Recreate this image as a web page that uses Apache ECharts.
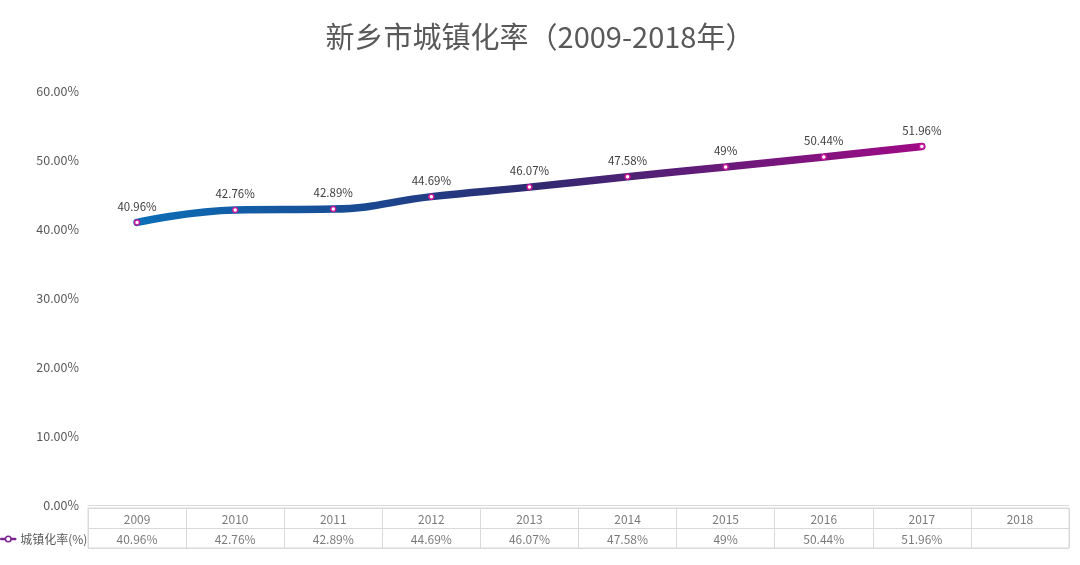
<!DOCTYPE html>
<html>
<head>
<meta charset="utf-8">
<script src="https://cdn.jsdelivr.net/npm/echarts@6/dist/echarts.min.js"></script>
<style>html,body{margin:0;padding:0;background:#fff}#c{width:1080px;height:565px}</style>
</head>
<body>
<div id="c"></div>
<script>
const titleText = '新乡市城镇化率（2009-2018年）';
const seriesName = '城镇化率(%)';
const years = ['2009','2010','2011','2012','2013','2014','2015','2016','2017','2018'];
const rates = [40.96, 42.76, 42.89, 44.69, 46.07, 47.58, 49, 50.44, 51.96, null];
const yTicks = [0, 10, 20, 30, 40, 50, 60];

const font = '"Noto Sans CJK SC", "Noto Sans", sans-serif';
const gray = '#595959';

const chart = echarts.init(document.getElementById('c'));
chart.setOption({
  animation: false,
  textStyle: { fontFamily: font },
  title: {
    text: titleText, left: 'center', top: 17,
    textStyle: { fontSize: 29, fontWeight: 'normal', color: gray, fontFamily: font }
  },
  legend: {
    data: [seriesName], left: 0, top: 533, padding: 0, itemWidth: 14, itemHeight: 7, itemGap: 2,
    textStyle: { fontSize: 12, color: gray },
    lineStyle: { color: '#7b2590', width: 2.5 },
    itemStyle: { color: '#fff', borderColor: '#7b2590', borderWidth: 1.5 }
  },
  grid: [
    { left: 88, right: 11, top: 91, bottom: 60 },
    { left: 88, right: 11, top: 508, height: 40, show: true, borderColor: '#d9d9d9', borderWidth: 1 }
  ],
  xAxis: [
    { type: 'category', data: years, gridIndex: 0, boundaryGap: true,
      axisLine: { show: true, lineStyle: { color: '#d9d9d9' } },
      axisTick: { show: false }, axisLabel: { show: false }, splitLine: { show: false } },
    { type: 'category', data: years, gridIndex: 1, boundaryGap: true,
      axisLine: { show: false }, axisTick: { show: false }, axisLabel: { show: false },
      splitLine: { show: true, interval: 0, lineStyle: { color: '#d9d9d9' } } }
  ],
  yAxis: [
    { type: 'value', gridIndex: 0, min: 0, max: 60, interval: 10,
      axisLine: { show: false }, axisTick: { show: false }, splitLine: { show: false },
      axisLabel: { color: gray, fontSize: 12.5, margin: 9, formatter: v => v.toFixed(2) + '%' } },
    { type: 'value', gridIndex: 1, min: 0, max: 2, interval: 1,
      axisLine: { show: false }, axisTick: { show: false }, axisLabel: { show: false },
      splitLine: { show: true, lineStyle: { color: '#d9d9d9' } } }
  ],
  series: [
    {
      name: seriesName, type: 'line', xAxisIndex: 0, yAxisIndex: 0,
      data: rates, smooth: 0.45, symbol: 'circle', symbolSize: 5, showAllSymbol: true,
      lineStyle: {
        width: 7.5, cap: 'round',
        color: new echarts.graphic.LinearGradient(0, 0, 1, 0, [
          { offset: 0, color: '#0b6fb8' },
          { offset: 0.3, color: '#1a4890' },
          { offset: 0.5, color: '#2e2a70' },
          { offset: 0.75, color: '#6a1a7a' },
          { offset: 1, color: '#a00a85' }
        ])
      },
      itemStyle: { color: '#fff', borderColor: '#c8189a', borderWidth: 1.5 },
      label: { show: true, position: 'top', distance: 7, fontSize: 11.5, color: '#404040',
        formatter: p => p.value + '%' },
      z: 3
    },
    {
      name: 'yearsRow', type: 'scatter', xAxisIndex: 1, yAxisIndex: 1, symbolSize: 0,
      data: years.map(y => [y, 1.45]), silent: true,
      label: { show: true, position: 'inside', fontSize: 12, color: gray, formatter: p => p.value[0] }
    },
    {
      name: 'valuesRow', type: 'scatter', xAxisIndex: 1, yAxisIndex: 1, symbolSize: 0,
      data: years.map((y, i) => rates[i] == null ? null : [y, 0.45]).filter(d => d), silent: true,
      label: { show: true, position: 'inside', fontSize: 12, color: gray,
        formatter: p => rates[years.indexOf(p.value[0])] + '%' }
    }
  ]
});
</script>
</body>
</html>
